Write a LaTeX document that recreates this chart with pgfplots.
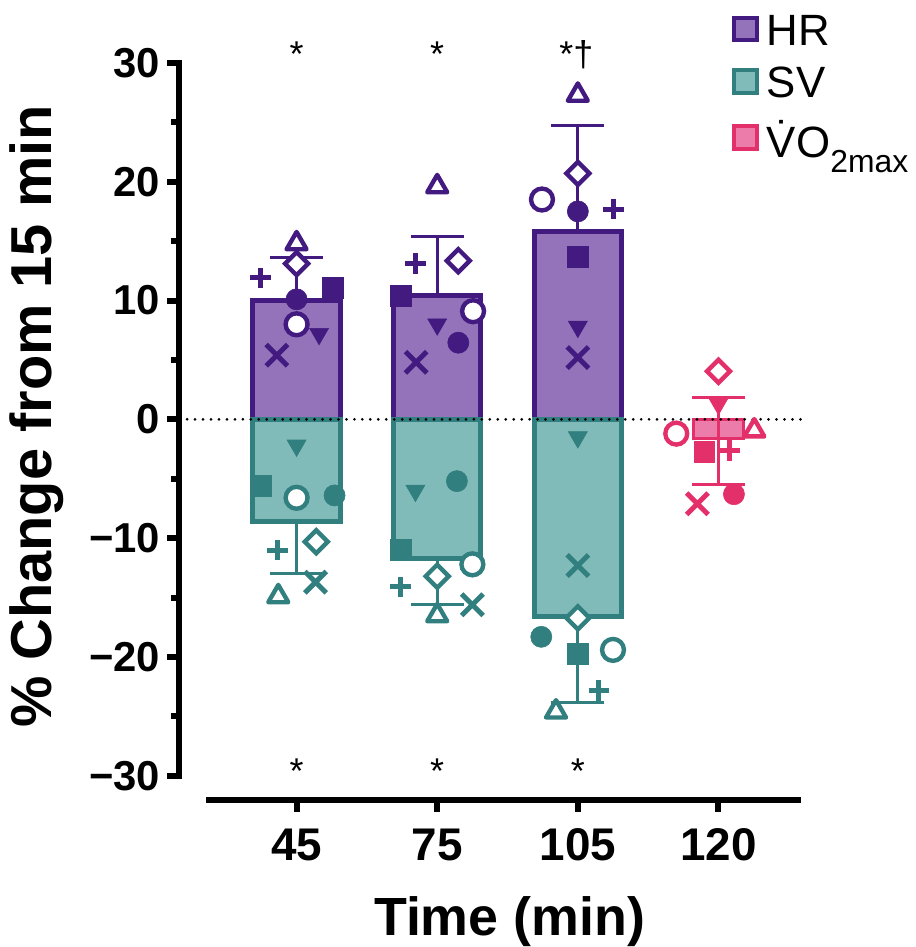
\documentclass[border=0pt]{standalone}
\usepackage{fontspec}
\setmainfont{Liberation Sans}
\usepackage{pgfplots}
\pgfplotsset{compat=1.18}
\definecolor{hrdark}{HTML}{431B80}
\definecolor{hrfill}{HTML}{9473BB}
\definecolor{svdark}{HTML}{317F7E}
\definecolor{svfill}{HTML}{80BBBA}
\definecolor{vodark}{HTML}{E3306A}
\definecolor{vofill}{HTML}{EC7DAA}

% marker styles, argument = colour
\pgfplotsset{
  mk/.style={only marks, forget plot},
  otri/.style={mk, mark=triangle*, mark size=5.8pt, mark options={fill=white, draw=#1, line width=2.2pt, line join=round}},
  odiam/.style={mk, mark=square*, mark size=4.1pt, mark options={rotate=45, fill=white, draw=#1, line width=2.2pt}},
  plusm/.style={mk, mark=+, mark size=5.2pt, mark options={draw=#1, line width=2.5pt}},
  fsq/.style={mk, mark=square*, mark size=5.2pt, mark options={fill=#1, draw=#1, line width=0.3pt}},
  fcirc/.style={mk, mark=*, mark size=5.3pt, mark options={fill=#1, draw=#1, line width=0.3pt}},
  ocirc/.style={mk, mark=*, mark size=5.5pt, mark options={fill=white, draw=#1, line width=2.2pt}},
  dtri/.style={mk, mark=triangle*, mark size=5.5pt, mark options={rotate=180, fill=#1, draw=#1, line width=0.3pt}},
  xm/.style={mk, mark=x, mark size=7.6pt, mark options={draw=#1, line width=2.5pt}},
}

\begin{document}
\begin{tikzpicture}
\begin{axis}[
  scale only axis, width=312.5pt, height=370pt,
  xmin=-0.835, xmax=3.59, ymin=-32, ymax=30,
  axis lines*=left, axis line style={draw=none},
  clip=false,
  tick align=outside,
  xtick={0,1,2,3}, xticklabels={45,75,105,120},
  ytick={-30,-20,...,30}, yticklabels={−30,−20,−10,0,10,20,30},
  minor ytick={-25,-15,...,25},
  major tick length=6pt, minor tick length=4pt,
  tick style={black, line width=3pt},
  xticklabel style={font=\bfseries\fontsize{23}{23}\selectfont, yshift=-5pt},
  yticklabel style={font=\bfseries\fontsize{21}{21}\selectfont},
  xlabel={Time (min)}, ylabel={\% Change from 15 min},
  xlabel style={font=\bfseries\fontsize{27}{27}\selectfont, inner sep=0pt, at={(rel axis cs:0.531,-0.166)}, anchor=center},
  ylabel style={font=\bfseries\fontsize{29}{29}\selectfont, inner sep=0pt, at={(rel axis cs:-0.229,0.52)}, anchor=center},
  legend style={draw=none, fill=none, at={(rel axis cs:0.888,1.071)}, anchor=north west,
    font=\fontsize{22}{22}\selectfont, inner sep=0pt, column sep=2pt, row sep=5.7pt},
  legend cell align=left,
]
% bars with one-sided SD
\addplot[ybar, bar width=0.62, bar shift=0pt, fill=hrfill, draw=hrdark, line width=2.5pt,
  legend image code/.code={\draw[draw=hrdark, fill=hrfill, line width=2pt] (0pt,-4.5pt) rectangle (11.5pt,7pt);},
  error bars/.cd, y dir=plus, y explicit, error mark=|,
  error bar style={line width=1.5pt, draw=hrdark},
  error mark options={mark size=13.25pt, line width=1.5pt, draw=hrdark}]
coordinates {(0,10.0) +- (0,3.6) (1,10.4) +- (0,5.0) (2,15.8) +- (0,8.9)};
\addplot[ybar, bar width=0.62, bar shift=0pt, fill=svfill, draw=svdark, line width=2.5pt,
  legend image code/.code={\draw[draw=svdark, fill=svfill, line width=2pt] (0pt,-4.5pt) rectangle (11.5pt,7pt);},
  error bars/.cd, y dir=minus, y explicit, error mark=|,
  error bar style={line width=1.5pt, draw=svdark},
  error mark options={mark size=13.25pt, line width=1.5pt, draw=svdark}]
coordinates {(0,-8.6) +- (0,4.4) (1,-11.7) +- (0,3.9) (2,-16.6) +- (0,7.2)};
\addplot[ybar, bar width=0.36, bar shift=0pt, fill=vofill, draw=vodark, line width=1.5pt,
  legend image code/.code={\draw[draw=vodark, fill=vofill, line width=2pt] (0pt,-4.5pt) rectangle (11.5pt,7pt);},
  error bars/.cd, y dir=both, y explicit, error mark=|,
  error bar style={line width=1.5pt, draw=vodark},
  error mark options={mark size=13.25pt, line width=1.5pt, draw=vodark}]
coordinates {(3,-1.6) += (0,3.4) -= (0,3.9)};
\legend{HR, SV, \.{V}O\raisebox{-0.35em}{\fontsize{16}{16}\selectfont 2max}}

% zero line and detached axis lines
\draw[black, line width=1.5pt, dash pattern=on 0pt off 4pt, line cap=round] (axis cs:-0.835,0) -- (axis cs:3.59,0);
\draw[line width=3pt, line cap=rect] (axis cs:-0.835,-30) -- (axis cs:-0.835,30);
\draw[line width=3pt] (axis cs:-0.644,-32) -- (axis cs:3.59,-32);

% HR individual values
\addplot[otri=hrdark]  coordinates {(0,14.8) (1,19.6) (2,27.3)};
\addplot[odiam=hrdark] coordinates {(0,13.1) (1.15,13.35) (2,20.7)};
\addplot[plusm=hrdark] coordinates {(-0.255,11.9) (0.845,13.1) (2.255,17.7)};
\addplot[fsq=hrdark]   coordinates {(0.26,11.1) (0.74,10.4) (2,13.7)};
\addplot[fcirc=hrdark] coordinates {(0,10.1) (1.15,6.45) (2,17.5)};
\addplot[ocirc=hrdark] coordinates {(0,8.0) (1.255,9.1) (1.745,18.5)};
\addplot[dtri=hrdark]  coordinates {(0.16,7.2) (1,8.0) (2,7.8)};
\addplot[xm=hrdark]    coordinates {(-0.14,5.4) (0.85,4.8) (2,5.2)};

% SV individual values
\addplot[otri=svdark]  coordinates {(-0.13,-14.9) (1,-16.5) (1.845,-24.6)};
\addplot[odiam=svdark] coordinates {(0.14,-10.3) (1,-13.2) (2,-16.7)};
\addplot[plusm=svdark] coordinates {(-0.135,-11.0) (0.74,-14.1) (2.15,-22.8)};
\addplot[fsq=svdark]   coordinates {(-0.255,-5.6) (0.74,-11.0) (2,-19.75)};
\addplot[fcirc=svdark] coordinates {(0.27,-6.4) (1.14,-5.2) (1.74,-18.3)};
\addplot[ocirc=svdark] coordinates {(0,-6.6) (1.25,-12.2) (2.25,-19.4)};
\addplot[dtri=svdark]  coordinates {(0,-2.2) (0.845,-6.0) (2,-1.5)};
\addplot[xm=svdark]    coordinates {(0.135,-13.7) (1.25,-15.6) (2,-12.3)};

% VO2max individual values
\addplot[otri=vodark]  coordinates {(3.255,-0.95)};
\addplot[odiam=vodark] coordinates {(3,4.05)};
\addplot[plusm=vodark] coordinates {(3.08,-2.6)};
\addplot[fsq=vodark]   coordinates {(2.9,-2.7)};
\addplot[fcirc=vodark] coordinates {(3.11,-6.3)};
\addplot[ocirc=vodark] coordinates {(2.7,-1.2)};
\addplot[dtri=vodark]  coordinates {(3,1.3)};
\addplot[xm=vodark]    coordinates {(2.85,-7.1)};

% significance marks
\node[font=\fontsize{18}{18}\selectfont, anchor=base] at (axis cs:0,29.7) {*};
\node[font=\fontsize{18}{18}\selectfont, anchor=base] at (axis cs:1,29.7) {*};
\node[font=\fontsize{18}{18}\selectfont, anchor=base] at (axis cs:1.99,29.7) {*\textdagger};
\node[font=\fontsize{18}{18}\selectfont, anchor=base] at (axis cs:0,-30.6) {*};
\node[font=\fontsize{18}{18}\selectfont, anchor=base] at (axis cs:1,-30.6) {*};
\node[font=\fontsize{18}{18}\selectfont, anchor=base] at (axis cs:2,-30.6) {*};

% frame with the reference's margins
\path (axis cs:-2.109,35.29) rectangle (axis cs:4.402,-44.09);
\end{axis}
\end{tikzpicture}
\end{document}
